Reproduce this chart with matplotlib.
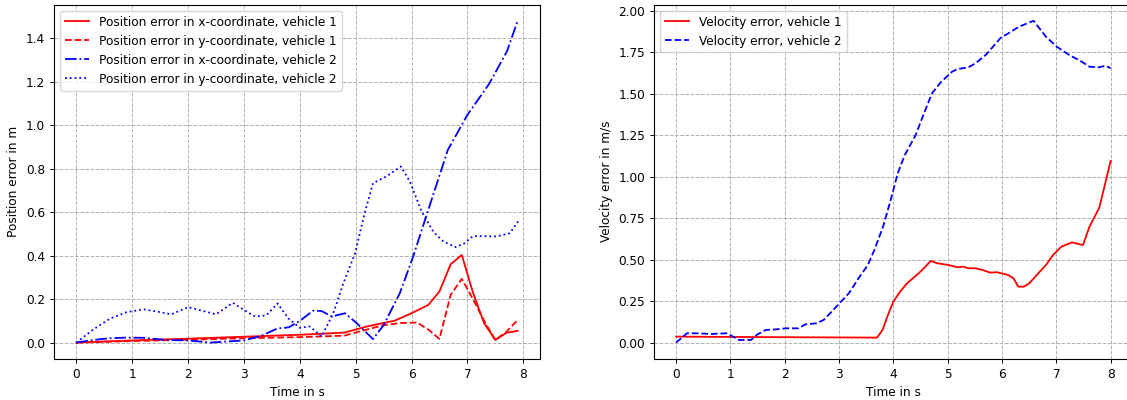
import numpy as np
import matplotlib
matplotlib.use("Agg")
import matplotlib.pyplot as plt

# position error, vehicle 1, x and y
t_px1 = [0, 1, 2, 3, 4, 4.8, 5.2, 5.7, 6.0, 6.3, 6.5, 6.7, 6.9, 7.1, 7.3, 7.5, 7.7, 7.9]
px1 = [0, 0.01, 0.018, 0.027, 0.036, 0.046, 0.074, 0.101, 0.135, 0.173, 0.235, 0.36, 0.403,
       0.23, 0.089, 0.012, 0.045, 0.054]
t_py1 = [0, 1, 2, 3, 4, 4.8, 5.2, 5.5, 5.8, 6.1, 6.3, 6.5, 6.7, 6.9, 7.1, 7.3, 7.5, 7.7, 7.9]
py1 = [0, 0.007, 0.013, 0.02, 0.025, 0.032, 0.06, 0.08, 0.09, 0.092, 0.06, 0.017, 0.219, 0.293,
       0.2, 0.1, 0.012, 0.05, 0.104]

# position error, vehicle 2, x and y
t_px2 = [0, 0.3, 0.6, 0.9, 1.2, 1.6, 2.0, 2.4, 3.0, 3.3, 3.6, 3.8, 4.0, 4.24, 4.39, 4.57, 4.81,
         5.02, 5.31, 5.5, 5.79, 6.03, 6.27, 6.65, 7.0, 7.39, 7.71, 7.9]
px2 = [0, 0.012, 0.02, 0.023, 0.022, 0.012, 0.01, 0.0, 0.01, 0.03, 0.065, 0.07, 0.1, 0.147,
       0.145, 0.12, 0.135, 0.089, 0.016, 0.08, 0.227, 0.396, 0.587, 0.886, 1.047, 1.19, 1.34, 1.48]
t_py2 = [0, 0.3, 0.6, 0.9, 1.2, 1.5, 1.7, 2.0, 2.2, 2.5, 2.8, 3.0, 3.2, 3.4, 3.6, 3.8, 4.0, 4.18,
         4.39, 4.6, 4.78, 4.99, 5.16, 5.31, 5.55, 5.81, 5.97, 6.18, 6.39, 6.57, 6.79, 6.95, 7.1,
         7.52, 7.76, 7.91]
py2 = [0, 0.06, 0.11, 0.14, 0.153, 0.14, 0.13, 0.163, 0.15, 0.13, 0.183, 0.15, 0.12, 0.125,
       0.18, 0.11, 0.068, 0.074, 0.028, 0.135, 0.273, 0.411, 0.595, 0.733, 0.764, 0.81, 0.741,
       0.603, 0.51, 0.465, 0.439, 0.457, 0.49, 0.488, 0.503, 0.557]

# velocity error
t_v1 = [0, 1, 3.7, 3.8, 3.9, 4.0, 4.11, 4.25, 4.48, 4.69, 4.81, 5.01, 5.18, 5.28, 5.38, 5.51,
        5.64, 5.78, 5.91, 6.11, 6.21, 6.3, 6.4, 6.5, 6.64, 6.81, 6.94, 7.09, 7.29, 7.49, 7.61,
        7.79, 8.0]
v1 = [0.036, 0.034, 0.03, 0.076, 0.167, 0.247, 0.301, 0.357, 0.422, 0.492, 0.478, 0.468, 0.454,
      0.458, 0.448, 0.448, 0.438, 0.422, 0.424, 0.408, 0.388, 0.337, 0.337, 0.357, 0.408, 0.468,
      0.528, 0.578, 0.604, 0.588, 0.699, 0.813, 1.096]
t_v2 = [0, 0.2, 0.39, 0.65, 0.93, 1.05, 1.15, 1.38, 1.48, 1.65, 1.85, 2.02, 2.25, 2.38, 2.58,
        2.72, 2.98, 3.18, 3.38, 3.53, 3.65, 3.81, 3.95, 4.08, 4.21, 4.41, 4.55, 4.71, 4.88, 5.08,
        5.18, 5.38, 5.51, 5.71, 5.98, 6.11, 6.31, 6.58, 6.81, 7.01, 7.24, 7.44, 7.61, 7.77, 7.91, 8.0]
v2 = [0, 0.056, 0.056, 0.052, 0.056, 0.036, 0.016, 0.016, 0.046, 0.076, 0.08, 0.086, 0.086, 0.11,
      0.116, 0.137, 0.227, 0.297, 0.398, 0.468, 0.558, 0.699, 0.859, 1.02, 1.131, 1.251, 1.371,
      1.502, 1.572, 1.633, 1.649, 1.659, 1.683, 1.737, 1.839, 1.863, 1.904, 1.94, 1.843, 1.783,
      1.733, 1.699, 1.663, 1.659, 1.669, 1.653]

# the original looks like a larger figure scaled down, so shrink everything a bit
plt.rcParams['font.size'] = 8.7
plt.rcParams['lines.linewidth'] = 1.3
plt.rcParams['axes.linewidth'] = 0.8
plt.rcParams['grid.linewidth'] = 0.7
plt.rcParams['xtick.major.size'] = 3.0
plt.rcParams['ytick.major.size'] = 3.0
plt.rcParams['xtick.major.width'] = 0.7
plt.rcParams['ytick.major.width'] = 0.7

fig = plt.figure(figsize=(11.27, 4), dpi=100)
ax1 = fig.add_axes([0.0482, 0.1033, 0.4312, 0.885])
ax2 = fig.add_axes([0.5806, 0.1033, 0.4242, 0.885])

ax1.plot(t_px1, px1, 'r-', label='Position error in x-coordinate, vehicle 1')
ax1.plot(t_py1, py1, 'r--', label='Position error in y-coordinate, vehicle 1')
ax1.plot(t_px2, px2, 'b-.', label='Position error in x-coordinate, vehicle 2')
ax1.plot(t_py2, py2, 'b:', label='Position error in y-coordinate, vehicle 2')
ax1.set_xlabel('Time in s')
ax1.set_ylabel('Position error in m')
ax1.grid(linestyle='--')
ax1.legend(loc='upper left')

ax2.plot(t_v1, v1, 'r-', label='Velocity error, vehicle 1')
ax2.plot(t_v2, v2, 'b--', label='Velocity error, vehicle 2')
ax2.set_xlabel('Time in s')
ax2.set_ylabel('Velocity error in m/s')
ax2.grid(linestyle='--')
ax2.legend(loc='upper left')

fig.savefig('out.png', dpi=100)
